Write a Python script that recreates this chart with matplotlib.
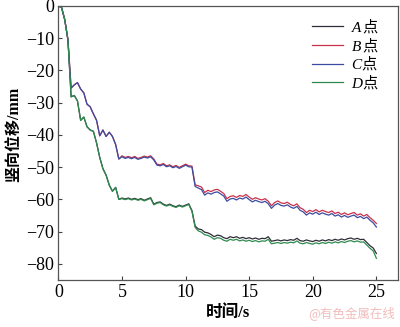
import matplotlib
matplotlib.use('Agg')
import matplotlib.pyplot as plt
import numpy as np

plt.rcParams['font.family'] = ['Liberation Serif', 'Noto Sans CJK SC', 'DejaVu Sans']
plt.rcParams['mathtext.fontset'] = 'custom'
plt.rcParams['mathtext.rm'] = 'Noto Sans CJK SC'
plt.rcParams['mathtext.it'] = 'Liberation Serif:italic'
plt.rcParams['axes.unicode_minus'] = True

# time in s, one reading every 0.25 s
t = np.arange(0, 25.01, 0.25)

disp_A = [0, -0.5, -4.3, -10.5, -28.2, -27.8, -29.5, -35.5,
          -34.5, -37.5, -38.5, -38.9, -42.5, -47.0, -50.5, -52.5,
          -55.6, -57.5, -56.3, -60.0, -59.6, -59.9, -59.6, -60.0,
          -59.7, -60.1, -59.8, -60.3, -59.9, -59.5, -61.5, -61.0,
          -60.8, -61.5, -61.9, -61.5, -62.0, -62.3, -61.8, -62.2,
          -61.8, -61.4, -63.5, -68.3, -69.2, -69.4, -70.2, -70.4,
          -70.9, -71.6, -71.1, -71.3, -71.9, -72.2, -71.6, -71.9,
          -71.6, -72.1, -71.8, -72.2, -71.9, -72.3, -72.0, -72.4,
          -72.1, -72.2, -71.6, -73.0, -72.8, -72.6, -72.9, -72.6,
          -72.8, -72.5, -72.7, -72.1, -72.8, -73.0, -72.6, -72.9,
          -73.1, -72.7, -73.0, -72.6, -72.9, -72.5, -72.8, -72.4,
          -72.7, -72.3, -72.6, -72.2, -72.0, -72.4, -72.1, -72.5,
          -72.4, -73.4, -74.4, -75.1,
          -76.8]

disp_B = [0, -0.5, -4.3, -10.5, -25.5, -24.5, -23.8, -25.8,
          -27.0, -30.5, -31.3, -33.5, -35.5, -40.3, -38.5, -40.5,
          -39.2, -40.5, -43.0, -47.5, -46.5, -47.0, -46.7, -47.1,
          -46.7, -47.3, -47.0, -46.6, -46.9, -46.5, -47.5, -49.1,
          -49.3, -48.9, -49.6, -49.3, -49.9, -49.5, -50.1, -49.6,
          -49.1, -49.6, -49.7, -55.5, -55.8, -56.2, -57.9, -57.2,
          -57.6, -57.1, -56.9, -57.5, -58.2, -59.8, -59.1, -58.9,
          -59.4, -58.8, -59.1, -58.5, -59.3, -60.0, -59.5, -59.9,
          -60.2, -59.8, -60.6, -62.0, -61.0, -60.5, -61.1, -61.3,
          -60.9, -61.6, -62.0, -61.4, -62.6, -63.1, -64.1, -63.4,
          -63.8, -63.2, -63.9, -63.4, -63.8, -64.1, -63.6, -64.4,
          -64.0, -64.7, -64.2, -64.8, -64.4, -64.1, -64.9, -64.5,
          -65.2, -64.7, -65.7, -66.5,
          -67.5]

disp_C = [0, -0.5, -4.3, -10.5, -25.5, -24.5, -23.8, -25.8,
          -27.0, -30.5, -31.3, -33.5, -35.5, -40.3, -38.5, -40.5,
          -39.2, -40.5, -43.0, -47.5, -46.8, -47.3, -47.0, -47.4,
          -47.0, -47.6, -47.3, -46.9, -47.2, -46.8, -47.8, -49.4,
          -49.6, -49.2, -49.9, -49.6, -50.2, -49.8, -50.4, -49.9,
          -49.4, -49.9, -50.0, -56.0, -56.5, -57.0, -58.7, -58.0,
          -58.4, -57.9, -57.7, -58.3, -59.0, -60.6, -59.9, -59.7,
          -60.2, -59.6, -59.9, -59.3, -60.1, -60.8, -60.3, -60.7,
          -61.0, -60.6, -61.4, -62.8, -61.8, -61.3, -61.9, -62.1,
          -61.7, -62.4, -62.8, -62.2, -63.4, -63.9, -64.9, -64.2,
          -64.6, -64.0, -64.7, -64.2, -64.6, -64.9, -64.4, -65.2,
          -64.8, -65.5, -65.0, -65.6, -65.2, -64.9, -65.7, -65.3,
          -66.0, -65.5, -66.5, -67.3,
          -68.6]

disp_D = [0, -0.5, -4.3, -10.5, -28.2, -27.8, -29.5, -35.5,
          -34.5, -37.5, -38.5, -38.9, -42.5, -47.0, -50.5, -52.5,
          -55.6, -57.5, -56.3, -60.0, -59.8, -60.1, -59.8, -60.2,
          -59.9, -60.3, -60.0, -60.5, -60.1, -59.7, -61.7, -61.2,
          -61.0, -61.7, -62.1, -61.7, -62.2, -62.5, -62.0, -62.4,
          -62.0, -61.6, -63.7, -68.7, -69.8, -70.2, -71.0, -71.2,
          -71.7, -72.4, -71.9, -72.1, -72.7, -73.0, -72.4, -72.7,
          -72.4, -72.9, -72.6, -73.0, -72.7, -73.1, -72.8, -73.2,
          -72.9, -73.0, -72.4, -73.8, -73.6, -73.4, -73.7, -73.4,
          -73.6, -73.3, -73.5, -72.9, -73.6, -73.8, -73.4, -73.7,
          -73.9, -73.5, -73.8, -73.4, -73.7, -73.3, -73.6, -73.2,
          -73.5, -73.1, -73.4, -73.0, -72.8, -73.2, -72.9, -73.3,
          -73.2, -74.2, -75.2, -76.0,
          -78.3]

labels = ['$A\\,\\mathrm{点}$', '$B\\,\\mathrm{点}$', '$C\\mathrm{点}$', '$D\\mathrm{点}$']
colors = ['#2e2e38', '#c8324b', '#3b4ba0', '#2e8b4e']

fig = plt.figure(figsize=(4.0, 3.27), dpi=100)
ax = fig.add_axes([0.146, 0.144, 0.849, 0.838])

for y, lab, c in zip([disp_A, disp_B, disp_C, disp_D], labels, colors):
    ax.plot(t, y, color=c, lw=0.9, label=lab)

ax.set_xlim(0, 26.7)
ax.set_ylim(-85, 0)
ax.set_xticks([0, 5, 10, 15, 20, 25])
ax.set_yticks([0, -10, -20, -30, -40, -50, -60, -70, -80])
ax.tick_params(direction='in', labelsize=13, length=3, pad=3, color='#444444')
for s in ax.spines.values():
    s.set_color('#555555')
    s.set_linewidth(0.9)

ax.set_xlabel('时间/s', fontsize=12, fontweight='bold', labelpad=3)
ax.set_ylabel('竖向位移/mm', fontsize=11.5, fontweight='bold', labelpad=2)
ax.yaxis.set_label_coords(-0.108, 0.53)

ax.legend(loc='upper right', bbox_to_anchor=(0.985, 1.01), frameon=False,
          fontsize=11, handlelength=2.0, handletextpad=0.5, labelspacing=0.05)

fig.text(0.988, 0.02, '@有色金属在线', color='#f2bcbc', fontsize=9,
         ha='right', va='bottom', family=['Noto Sans CJK SC', 'DejaVu Sans'])

fig.savefig('out.png', dpi=100)
